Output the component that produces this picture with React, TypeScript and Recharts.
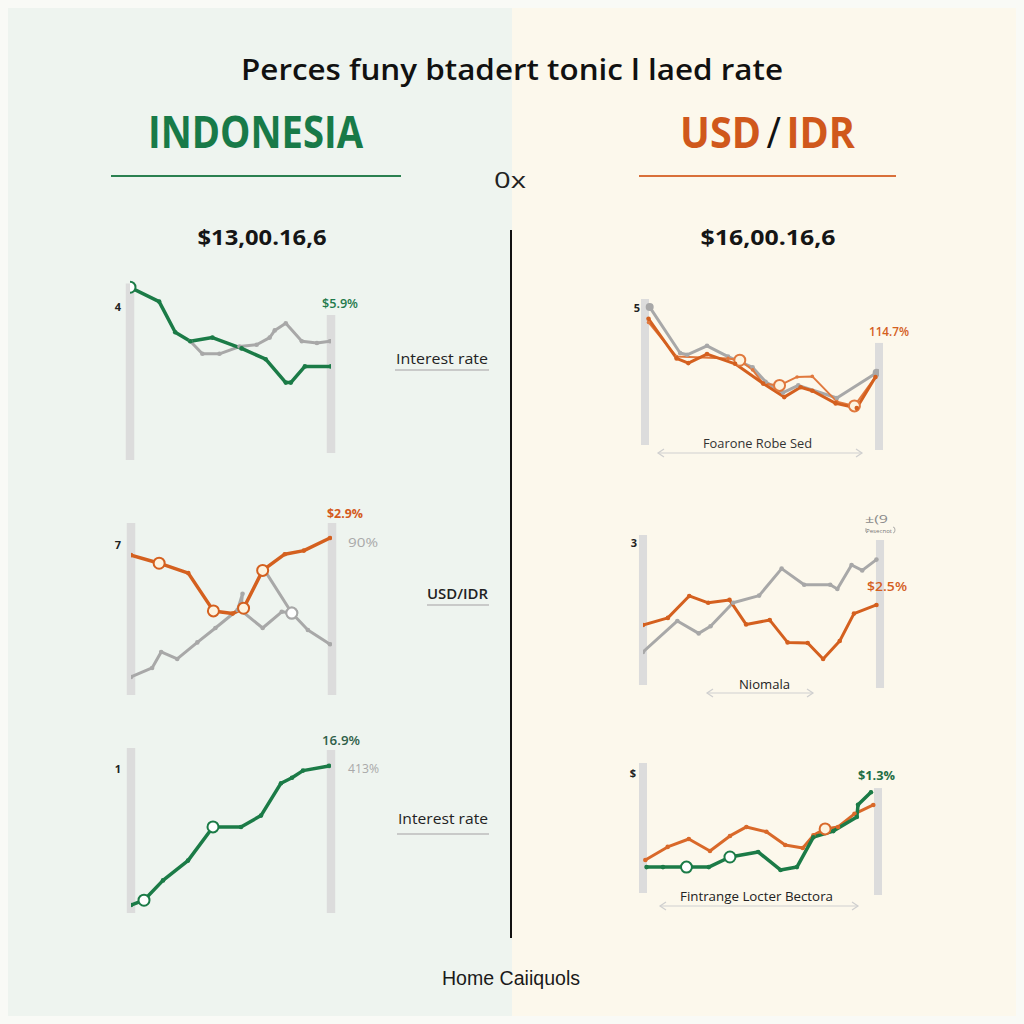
import React from 'react';
import { LineChart, Line, XAxis, YAxis, ReferenceArea } from 'recharts';

const GREEN = '#1b7b47';
const ORANGE = '#d4601f';
const GRAY = '#a8a8a8';
const BAR = '#dcdcdc';

// ---- data (t = time index 0..20, v = relative value 0..100) ----
const p1Green = [[0, 96], [2.9, 88], [4.5, 71], [6, 66], [8.2, 68], [11.1, 62], [13.5, 56], [15.5, 43], [16, 43], [17.4, 52], [20, 52]];
const p1Gray = [[6, 66], [7.2, 59], [8.9, 59], [10.9, 63], [12.6, 64], [13.9, 68], [14.4, 72], [15.5, 76], [17.1, 66], [18.6, 65], [19.9, 66]];

const p2Orange = [[0, 80.5], [2.8, 76], [5.7, 70.5], [8.2, 49.5], [10.1, 48], [11.2, 51], [13.1, 72], [15.3, 81], [17.2, 83], [19.8, 90]];
const p2Gray = [[0, 12.8], [2.1, 17.8], [3, 26.7], [4.6, 22.8], [6.6, 32], [8.4, 40], [10.6, 50], [11.1, 59], [10.9, 50], [13.1, 40], [15, 49], [16, 48.3], [17.6, 38.9], [19.8, 31]];
const p2GraySpur = [[13.3, 72], [16, 48.3]];

const p3Green = [[0, 8.3], [1.3, 11], [3.2, 22], [5.7, 33], [8.2, 51.7], [11, 51.7], [13, 58], [15, 76], [16.1, 79], [17.2, 83], [19.8, 85.6]];

const p4Gray = [[0.4, 90.5], [3, 65], [3.6, 64], [5.3, 69], [7.1, 63], [9.2, 57], [10.3, 49], [11.8, 43], [13.1, 47], [16.4, 40], [19.8, 54]];
const p4Orange = [[0.3, 84], [2.7, 62], [3.7, 59.4], [5.3, 64.4], [7.7, 59], [10.1, 48], [11.9, 40.5], [13.3, 46], [14.3, 44], [16.3, 37], [18.1, 34.4], [19.7, 51.7]];
const p4Orange2 = [[0.3, 82], [2.7, 63], [7.1, 62], [8.1, 61], [9.2, 55.6], [10.1, 48], [11.5, 47], [13, 51.7], [14.3, 52], [16.4, 38], [17.9, 35.6], [19.7, 51.7]];

const p5Gray = [[0, 26.7], [2.9, 43.9], [4.7, 37], [5.7, 41], [7.6, 54], [9.8, 58], [11.7, 73], [13.6, 64], [15.8, 64], [16.4, 61.7], [17.6, 75], [18.5, 72], [19.7, 78]];
const p5Orange = [[0, 41.7], [2.1, 45.6], [3.9, 57.8], [5.5, 54], [7.3, 55.6], [8.7, 42], [10.7, 44.4], [12.2, 32], [13.9, 31.7], [15.2, 22.8], [16.6, 32.8], [17.8, 48], [19.7, 52.8]];

const p6Orange = [[0.2, 33.3], [2.1, 40.6], [3.9, 45], [5.7, 38.3], [7.4, 46.7], [8.8, 51.7], [10.5, 49], [12.1, 41.7], [13.6, 40], [14.5, 47], [15.5, 50.6], [16.6, 51.7], [18, 59], [19.6, 63.9]];
const p6Green = [[0.3, 29.4], [1.7, 29.4], [3.7, 29.4], [5.6, 29.4], [7.4, 35], [9.8, 37.8], [11.7, 27.8], [13.1, 29.4], [14.5, 46], [16.2, 49.4], [18.2, 57.2], [18.3, 64], [19.4, 71]];

// side bars: [t, low, high]
const p1Bars = [[0, 0, 98], [20, 3.9, 80.6]];
const p2Bars = [[0, 2.8, 98.3], [20, 2.8, 98.3]];
const p3Bars = [[0, 3.9, 95.6], [20, 3.9, 94.4]];
const p4Bars = [[0, 13.9, 95], [20, 11.1, 70.6]];
const p5Bars = [[0, 8.3, 91.7], [20, 6.7, 88.9]];
const p6Bars = [[0, 15, 87.2], [20, 13.9, 73.3]];

type Series = { data: number[][]; color: string; width: number; open?: number[]; big?: number[]; fill?: string; r?: number };

const toPts = (arr: number[][]) => arr.map(([t, v]) => ({ t, v }));

const makeDot = (s: Series) => (props: any) => {
  const { cx, cy, index } = props;
  const k = `d${index}`;
  if (cx == null || cy == null) return <g key={k} />;
  if (s.open && s.open.includes(index)) {
    return <circle key={k} cx={cx} cy={cy} r={5.5} fill={s.fill || '#ffffff'} stroke={s.color} strokeWidth={2} />;
  }
  if (s.big && s.big.includes(index)) {
    return <circle key={k} cx={cx} cy={cy} r={4} fill={s.color} />;
  }
  return <circle key={k} cx={cx} cy={cy} r={s.r ?? 2.3} fill={s.color} />;
};

function Mini({ x0, x1, top, bottom, bars, half, series }: { x0: number; x1: number; top: number; bottom: number; bars: number[][]; half: number; series: Series[] }) {
  const pad = 14;
  return (
    <div style={{ position: 'absolute', left: x0 - pad, top: top - pad }}>
      <LineChart width={x1 - x0 + 2 * pad} height={bottom - top + 2 * pad} margin={{ top: pad, right: pad, bottom: pad, left: pad }}>
        <XAxis type="number" dataKey="t" domain={[0, 20]} hide allowDataOverflow />
        <YAxis type="number" domain={[0, 100]} hide allowDataOverflow />
        {bars.map((b, i) => (
          <ReferenceArea key={`b${i}`} x1={b[0] - half} x2={b[0] + half} y1={b[1]} y2={b[2]} fill={BAR} fillOpacity={1} stroke="none" ifOverflow="visible" />
        ))}
        {series.map((s, i) => (
          <Line
            key={`s${i}`}
            data={toPts(s.data)}
            dataKey="v"
            type="linear"
            stroke={s.color}
            strokeWidth={s.width}
            strokeLinejoin="round"
            strokeLinecap="round"
            dot={makeDot(s)}
            activeDot={false}
            isAnimationActive={false}
          />
        ))}
      </LineChart>
    </div>
  );
}

const Arrow = ({ xa, xb, y }: { xa: number; xb: number; y: number }) => (
  <g stroke="#cfcfcf" strokeWidth={1.2} fill="none">
    <line x1={xa} y1={y} x2={xb} y2={y} />
    <polyline points={`${xa + 6},${y - 4} ${xa},${y} ${xa + 6},${y + 4}`} />
    <polyline points={`${xb - 6},${y - 4} ${xb},${y} ${xb - 6},${y + 4}`} />
  </g>
);

const OS = "'Open Sans', 'Noto Sans', sans-serif";

export default function App() {
  return (
    <div style={{ position: 'absolute', left: 0, top: 0, width: 1024, height: 1024, background: '#f9faf6', overflow: 'hidden' }}>
      <svg width={1024} height={1024} style={{ position: 'absolute', left: 0, top: 0 }}>
        <rect x={8} y={8} width={504} height={1008} fill="#eef4ef" />
        <rect x={512} y={8} width={504} height={1008} fill="#fcf8ec" />
      </svg>

      <Mini x0={130} x1={331} top={280} bottom={460} bars={p1Bars} half={0.42}
        series={[
          { data: p1Gray, color: GRAY, width: 3 },
          { data: p1Green, color: GREEN, width: 3.5, open: [0] },
        ]} />
      <Mini x0={131} x1={332} top={520} bottom={700} bars={p2Bars} half={0.42}
        series={[
          { data: p2GraySpur, color: GRAY, width: 3, open: [1] },
          { data: p2Gray, color: GRAY, width: 3, open: [11] },
          { data: p2Orange, color: ORANGE, width: 3.5, open: [1, 3, 5, 6], fill: '#fdf3df' },
        ]} />
      <Mini x0={131} x1={331} top={740} bottom={920} bars={p3Bars} half={0.42}
        series={[
          { data: p3Green, color: GREEN, width: 3.5, open: [1, 4] },
        ]} />
      <Mini x0={645} x1={879} top={290} bottom={470} bars={p4Bars} half={0.34}
        series={[
          { data: p4Gray, color: GRAY, width: 3, big: [0, 10] },
          { data: p4Orange2, color: '#e0793e', width: 2, open: [3, 6, 10], fill: '#fdf3df', r: 1.8 },
          { data: p4Orange, color: ORANGE, width: 3 },
        ]} />
      <Mini x0={643} x1={880} top={520} bottom={700} bars={p5Bars} half={0.34}
        series={[
          { data: p5Gray, color: GRAY, width: 3 },
          { data: p5Orange, color: ORANGE, width: 3 },
        ]} />
      <Mini x0={643} x1={878} top={740} bottom={920} bars={p6Bars} half={0.34}
        series={[
          { data: p6Orange, color: '#d9692a', width: 3, open: [10], fill: '#fdf3df' },
          { data: p6Green, color: GREEN, width: 3.5, open: [2, 4] },
        ]} />

      <svg width={1024} height={1024} style={{ position: 'absolute', left: 0, top: 0, pointerEvents: 'none' }}>
        <g fontFamily={OS}>
          <text x={512} y={80} textAnchor="middle" fontSize={29} fontWeight={600} fill="#111" textLength={542} lengthAdjust="spacingAndGlyphs">Perces funy btadert tonic l laed rate</text>
          <text x={148} y={148} fontSize={44} fontWeight={700} fill="#187a48" textLength={215} lengthAdjust="spacingAndGlyphs">INDONESIA</text>
          <text transform="translate(680,148) scale(0.92,1)" x={0} y={0} fontSize={43} fontWeight={700} fill="#d0581c">
            <tspan>USD</tspan><tspan dx={6} fill="#111" fontWeight={400}>/</tspan><tspan dx={6}>IDR</tspan>
          </text>
          <line x1={111} y1={176} x2={401} y2={176} stroke="#2a8050" strokeWidth={2} />
          <line x1={639} y1={176} x2={896} y2={176} stroke="#d9703a" strokeWidth={2} />
          <text x={510} y={188} textAnchor="middle" fontSize={21} fontWeight={500} fill="#222" textLength={32} lengthAdjust="spacingAndGlyphs">0x</text>
          <text x={262} y={245} textAnchor="middle" fontSize={22} fontWeight={700} fill="#151515" textLength={129} lengthAdjust="spacingAndGlyphs">$13,00.16,6</text>
          <text x={768} y={245} textAnchor="middle" fontSize={22} fontWeight={700} fill="#151515" textLength={135} lengthAdjust="spacingAndGlyphs">$16,00.16,6</text>
          <line x1={511} y1={230} x2={511} y2={938} stroke="#111" strokeWidth={2} />

          {/* panel 1 */}
          <text x={118} y={311} textAnchor="middle" fontSize={11} fontWeight={700} fill="#222">4</text>
          <text x={322} y={308} fontSize={13} fontWeight={600} fill="#1f7a4c" textLength={36} lengthAdjust="spacingAndGlyphs">$5.9%</text>
          <text x={396} y={364} fontSize={14} fontWeight={500} fill="#222" textLength={92} lengthAdjust="spacingAndGlyphs">Interest rate</text>
          <line x1={395} y1={370} x2={489} y2={370} stroke="#bdbdbd" strokeWidth={1.5} />

          {/* panel 2 */}
          <text x={118} y={549} textAnchor="middle" fontSize={11} fontWeight={700} fill="#222">7</text>
          <text x={327} y={518} fontSize={13} fontWeight={700} fill="#d45a1c" textLength={36} lengthAdjust="spacingAndGlyphs">$2.9%</text>
          <text x={348} y={547} fontSize={12} fill="#a9a9a9" textLength={30} lengthAdjust="spacingAndGlyphs">90%</text>
          <text x={427} y={599} fontSize={14} fontWeight={600} fill="#222" textLength={61} lengthAdjust="spacingAndGlyphs">USD/IDR</text>
          <line x1={427} y1={605} x2={489} y2={605} stroke="#bdbdbd" strokeWidth={1.5} />

          {/* panel 3 */}
          <text x={118} y={773} textAnchor="middle" fontSize={11} fontWeight={700} fill="#222">1</text>
          <text x={322} y={745} fontSize={13} fontWeight={600} fill="#2e5f49" textLength={38} lengthAdjust="spacingAndGlyphs">16.9%</text>
          <text x={348} y={773} fontSize={12} fill="#a9a9a9" textLength={31} lengthAdjust="spacingAndGlyphs">413%</text>
          <text x={398} y={824} fontSize={14} fontWeight={500} fill="#222" textLength={90} lengthAdjust="spacingAndGlyphs">Interest rate</text>
          <line x1={397} y1={834} x2={489} y2={834} stroke="#bdbdbd" strokeWidth={1.5} />

          {/* panel 4 */}
          <text x={637} y={312} textAnchor="middle" fontSize={11} fontWeight={700} fill="#222">5</text>
          <text x={869} y={336} fontSize={12} fontWeight={600} fill="#d4601f" textLength={40} lengthAdjust="spacingAndGlyphs">114.7%</text>
          <text x={703} y={448} fontSize={12.5} fill="#333" textLength={109} lengthAdjust="spacingAndGlyphs">Foarone Robe Sed</text>
          <Arrow xa={658} xb={862} y={453} />

          {/* panel 5 */}
          <text x={634} y={547} textAnchor="middle" fontSize={11} fontWeight={700} fill="#222">3</text>
          <text x={865} y={523} fontSize={11} fill="#8a8a8a" textLength={23} lengthAdjust="spacingAndGlyphs">±(9</text>
          <text x={866} y={533} fontSize={5} fill="#777" textLength={26} lengthAdjust="spacingAndGlyphs">Pesecnot</text>
          <path d="M893,527 q2,0 2,3 q0,3 -2,3 M866,528 q-1,4 1,5" stroke="#999" strokeWidth={0.8} fill="none" />
          <text x={867} y={591} fontSize={13} fontWeight={600} fill="#d4601f" textLength={40} lengthAdjust="spacingAndGlyphs">$2.5%</text>
          <text x={739} y={689} fontSize={13} fill="#222" textLength={51} lengthAdjust="spacingAndGlyphs">Niomala</text>
          <Arrow xa={707} xb={813} y={693} />

          {/* panel 6 */}
          <text x={633} y={777} textAnchor="middle" fontSize={11} fontWeight={700} fill="#222">$</text>
          <text x={858} y={780} fontSize={13} fontWeight={700} fill="#1f6e45" textLength={37} lengthAdjust="spacingAndGlyphs">$1.3%</text>
          <text x={680} y={901} fontSize={13} fill="#222" textLength={153} lengthAdjust="spacingAndGlyphs">Fintrange Locter Bectora</text>
          <Arrow xa={660} xb={858} y={906} />
        </g>
        <text x={511} y={985} textAnchor="middle" fontFamily="'Liberation Sans', Arial, sans-serif" fontSize={20} fill="#1a1a1a" textLength={138} lengthAdjust="spacingAndGlyphs">Home Caiiquols</text>
      </svg>
    </div>
  );
}
